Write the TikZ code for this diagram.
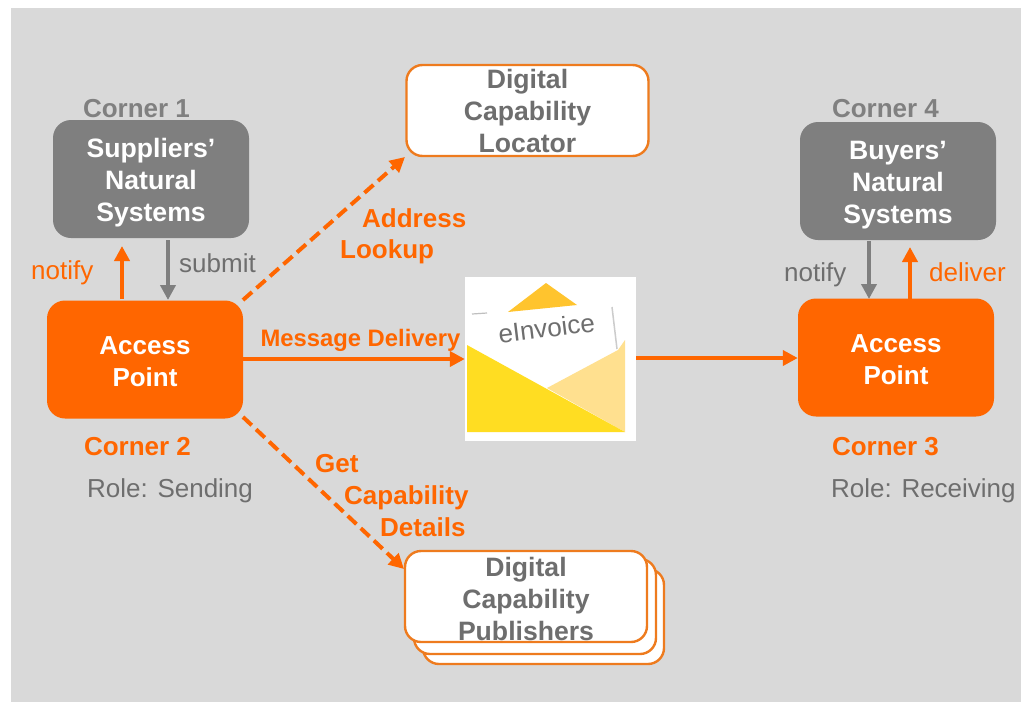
\documentclass[tikz,border=0pt]{standalone}
\usepackage{fontspec}
\setmainfont{Liberation Sans}
\usetikzlibrary{arrows.meta,calc}
\definecolor{bgc}{HTML}{D9D9D9}
\definecolor{org}{HTML}{FF6600}
\definecolor{orgl}{HTML}{EE7B1E}
\definecolor{grayb}{HTML}{7F7F7F}
\definecolor{txtg}{HTML}{6E6E6E}
\definecolor{lblg}{HTML}{808080}
\definecolor{envfront}{HTML}{FFDD22}
\definecolor{envback}{HTML}{FFE08F}
\definecolor{envflap}{HTML}{FFC42E}
\newcommand{\pushtext}[1]{\rule{0pt}{#1pt}}
\tikzset{
  x=1pt,y=-1pt,
  box/.style={rounded corners=18pt,minimum width=#1,inner sep=0pt,align=center,font=\fontsize{26.6}{32}\selectfont\bfseries},
  sysbox/.style={box=196pt,minimum height=118pt,fill=grayb,text=white},
  apbox/.style={box=196pt,minimum height=118pt,fill=org,text=white,font=\fontsize{26}{32}\selectfont\bfseries},
  whitebox/.style={box=242pt,minimum height=91pt,rounded corners=16pt,fill=white,draw=orgl,line width=2.4pt,text=txtg},
  corner/.style={font=\fontsize{26}{28}\selectfont\bfseries,text=lblg,inner sep=0pt},
  cornero/.style={font=\fontsize{26}{28}\selectfont\bfseries,text=org,inner sep=0pt},
  olabel/.style={font=\fontsize{26}{32}\selectfont\bfseries,text=org,inner sep=0pt},
  plain/.style={font=\fontsize{26}{28}\selectfont,inner sep=0pt},
  oarrow/.style={draw=org,line width=4pt,-{Triangle[length=15pt,width=15pt]}},
  garrow/.style={draw=grayb,line width=4pt,-{Triangle[length=15pt,width=15pt]}},
  darrow/.style={oarrow,dash pattern=on 12pt off 6pt},
}
\begin{document}
\begin{tikzpicture}
\useasboundingbox (0,0) rectangle (1021,702);
\fill[bgc] (11,8) rectangle (1021,702);

% stacked publishers
\draw[orgl,line width=2.4pt,fill=white,rounded corners=16pt] (423,569) rectangle (664,664);
\draw[orgl,line width=2.4pt,fill=white,rounded corners=16pt] (414,559) rectangle (656,654);

\node[whitebox] (dcp) at (526,596.5) {\pushtext{24}Digital\\Capability\\Publishers};
\node[whitebox] (dcl) at (527.5,110.5) {Digital\\Capability\\Locator};

\node[sysbox] (s1) at (151,179) {\pushtext{27.5}Suppliers’\\Natural\\Systems};
\node[sysbox] (s4) at (898,181) {\pushtext{27.5}Buyers’\\Natural\\Systems};
\node[apbox] (ap2) at (145,359.5) {\pushtext{23}Access\\Point};
\node[apbox] (ap3) at (896,357.5) {\pushtext{23}Access\\Point};

\node[corner] (c1) at (136.5,109) {Corner 1};
\node[corner] (c4) at (885.5,109) {Corner 4};
\node[cornero] (c2) at (137.5,447) {Corner 2};
\node[cornero] (c3) at (885.5,447) {Corner 3};
\node[plain,text=txtg,anchor=west] (r2) at (87,491) {Role: Sending};
\node[plain,text=txtg,anchor=west] (r3) at (831,491) {Role: Receiving};

% envelope
\node[fill=white,minimum width=171pt,minimum height=164pt,inner sep=0pt] (env) at (550.5,359) {};
\fill[envflap] (546,283) -- (577,305) -- (508,312) -- cycle;
\fill[envback] (625,340) -- (625,432) -- (547,388) -- (618,350) -- cycle;
\fill[envfront] (467,345) -- (625,432) -- (467,432) -- cycle;
\draw[black!25,line width=1.2pt] (472,314) -- (487,313);
\draw[black!20,line width=1.5pt] (612,307) -- (617,349);
\node[rotate=7,font=\fontsize{26}{28}\selectfont,text=txtg,inner sep=0pt] (einv) at (546.5,328) {eInvoice};

% connectors
\coordinate (p1) at (122,299);
\coordinate (p2) at (122,246);
\draw[oarrow] (p1) -- (p2);
\coordinate (p3) at (168,240);
\coordinate (p4) at (168,300);
\draw[garrow] (p3) -- (p4);
\node[plain,text=org,anchor=west] (n1) at (31,272.5) {notify};
\node[plain,text=txtg,anchor=west] (sub) at (179,263) {submit};

\coordinate (p5) at (869,241);
\coordinate (p6) at (869,299);
\draw[garrow] (p5) -- (p6);
\coordinate (p7) at (910,299);
\coordinate (p8) at (910,247);
\draw[oarrow] (p7) -- (p8);
\node[plain,text=txtg,anchor=west] (n4) at (784,275) {notify};
\node[plain,text=org,anchor=west] (del) at (929,272) {deliver};

\coordinate (a1) at (243,300);
\coordinate (a2) at (405,157);
\draw[darrow] (a1) -- (a2);
\coordinate (b1) at (243,417);
\coordinate (b2) at (404,569);
\draw[darrow] (b1) -- (b2);

\draw[oarrow] (ap2.east |- 0,359) -- (env.west |- 0,359);
\draw[oarrow] (env.east |- 0,358) -- (ap3.west |- 0,358);

\node[olabel,font=\fontsize{23.8}{28}\selectfont\bfseries] (md) at (360.5,340) {Message Delivery};
\node[olabel,anchor=west] (al1) at (362,218) {Address};
\node[olabel,anchor=west] (al2) at (340,252) {Lookup};
\node[olabel,anchor=west] (g1) at (315,463.5) {Get};
\node[olabel,anchor=west] (g2) at (344,498) {Capability};
\node[olabel,anchor=west] (g3) at (380,527) {Details};
\end{tikzpicture}
\end{document}
